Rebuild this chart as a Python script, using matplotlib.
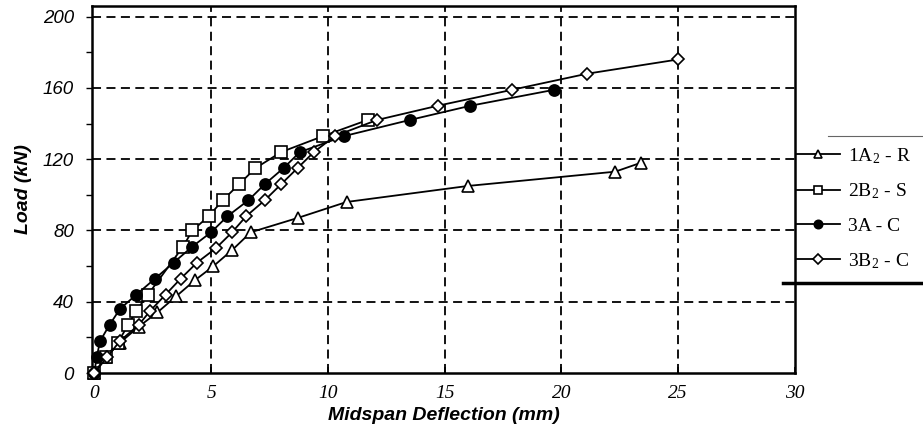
import matplotlib.pyplot as plt
from matplotlib.lines import Line2D

# Datos (deflexion en mm, carga en kN)
defl_1a2r = [0, 0.5, 1.1, 1.9, 2.7, 3.5, 4.3, 5.1, 5.9, 6.7, 8.7, 10.8, 16.0, 22.3, 23.4]
load_1a2r = [0, 9, 17, 26, 34, 43, 52, 60, 69, 79, 87, 96, 105, 113, 118]

defl_2b2s = [0, 0.5, 1.0, 1.45, 1.8, 2.3, 3.8, 4.2, 4.9, 5.5, 6.2, 6.9, 8.0, 9.8, 11.7]
load_2b2s = [0, 9, 17, 27, 35, 44, 71, 80, 88, 97, 106, 115, 124, 133, 142]

defl_3ac = [0, 0.1, 0.25, 0.65, 1.1, 1.8, 2.6, 3.4, 4.2, 5.0, 5.7, 6.6, 7.3, 8.1, 8.8, 10.7, 13.5, 16.1, 19.7]
load_3ac = [0, 9, 18, 27, 36, 44, 53, 62, 71, 79, 88, 97, 106, 115, 124, 133, 142, 150, 159]

defl_3b2c = [0, 0.55, 1.1, 1.9, 2.4, 3.05, 3.7, 4.4, 5.2, 5.9, 6.5, 7.3, 8.0, 8.7, 9.4, 10.3, 12.1, 14.7, 17.9, 21.1, 25.0]
load_3b2c = [0, 9, 18, 27, 35, 44, 53, 62, 70, 79, 88, 97, 106, 115, 124, 133, 142, 150, 159, 168, 176]

labels = ["1A$_\\mathregular{2}$ - R", "2B$_\\mathregular{2}$ - S", "3A - C", "3B$_\\mathregular{2}$ - C"]
x_ticks = [0, 5, 10, 15, 20, 25, 30]
y_ticks = [0, 40, 80, 120, 160, 200]

plt.rcParams['mathtext.fontset'] = 'stix'

fig = plt.figure(figsize=(9.23, 4.42), dpi=100)
ax = fig.add_axes([92 / 923, 1 - 373 / 442, (795 - 92) / 923, (373 - 6) / 442])

# Series
estilo = dict(color="black", lw=1.3, clip_on=False, markeredgewidth=1.2, markeredgecolor="black")
ax.plot(defl_1a2r, load_1a2r, marker="^", ms=8, mfc="white", zorder=3, label=labels[0], **estilo)
ax.plot(defl_2b2s, load_2b2s, marker="s", ms=8.5, mfc="white", zorder=4, label=labels[1], **estilo)
ax.plot(defl_3ac, load_3ac, marker="o", ms=8, mfc="black", zorder=5, label=labels[2], **estilo)
ax.plot(defl_3b2c, load_3b2c, marker="D", ms=6.5, mfc="white", zorder=6, label=labels[3], **estilo)

ax.set_xlim(-0.1, 30)
ax.set_ylim(0, 206)
ax.set_xticks(x_ticks)
ax.set_yticks(y_ticks)
ax.set_yticks([20, 60, 100, 140, 180], minor=True)

# Rejilla discontinua
for xv in x_ticks[1:-1]:
    ax.axvline(xv, color="black", lw=1.3, ls=(0, (5, 3)), zorder=1)
for yv in y_ticks[1:]:
    ax.axhline(yv, color="black", lw=1.3, ls=(0, (5, 3)), zorder=1)

for sp in ax.spines.values():
    sp.set_linewidth(1.8)

ax.tick_params(axis="x", direction="in", length=4, width=1.2, pad=9)
ax.tick_params(axis="y", direction="out", length=4, width=1, pad=9)
ax.tick_params(axis="y", which="minor", direction="out", length=4, width=1)

for t in ax.get_xticklabels():
    t.set_fontfamily("Liberation Serif")
    t.set_fontstyle("italic")
    t.set_fontsize(14)
for t in ax.get_yticklabels():
    t.set_fontfamily("Liberation Sans")
    t.set_fontstyle("italic")
    t.set_fontsize(13.5)

ax.set_xlabel("Midspan Deflection (mm)", fontfamily="Liberation Sans", fontstyle="italic",
              fontweight="bold", fontsize=14, labelpad=3)
ax.set_ylabel("Load (kN)", fontfamily="Liberation Sans", fontstyle="italic",
              fontweight="bold", fontsize=14, labelpad=8)

# Leyenda fuera del area de trazado
leg = fig.legend(loc="upper left", bbox_to_anchor=(797 / 923, 1 - 146 / 442), frameon=False,
                 prop={"family": "Liberation Serif", "size": 14}, handlelength=2.2,
                 handletextpad=0.4, labelspacing=0.82, borderpad=0, borderaxespad=0,
                 markerscale=0.75)

# Lineas del documento escaneado alrededor de la leyenda
fig.add_artist(Line2D([828 / 923, 1.0], [1 - 136 / 442] * 2, color="0.4", lw=0.8))
fig.add_artist(Line2D([783 / 923, 1.0], [1 - 283 / 442] * 2, color="black", lw=2.5))

fig.savefig("out.png", dpi=100)
